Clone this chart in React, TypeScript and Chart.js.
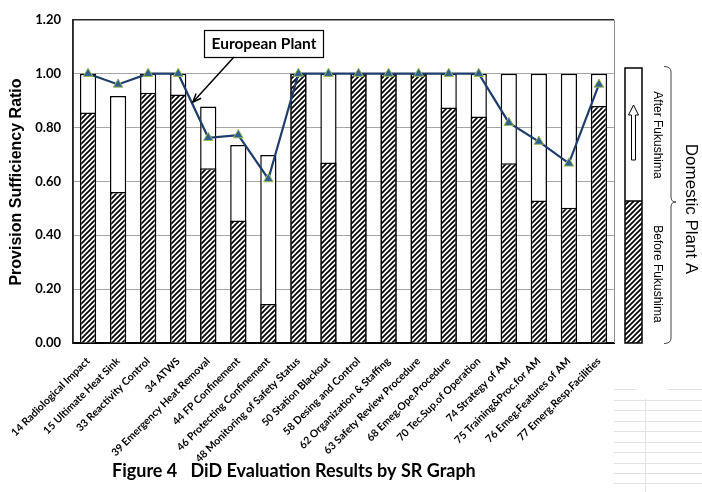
import React, { useEffect, useRef } from "react";
import { Chart, registerables } from "chart.js";

Chart.register(...registerables);

const categories = [
  "14 Radiological Impact",
  "15 Ultimate Heat Sink",
  "33 Reactivity Control",
  "34 ATWS",
  "39 Emergency Heat Removal",
  "44 FP Confinement",
  "46 Protecting Confinement",
  "48 Monitoring of Safety Status",
  "50 Station Blackout",
  "58 Desing and Control",
  "62 Organization & Staffing",
  "63 Safety Review Procedure",
  "68 Emeg.Ope.Procedure",
  "70 Tec.Sup.of Operation",
  "74 Strategy of AM",
  "75 Training&Proc.for AM",
  "76 Emeg.Features of AM",
  "77 Emerg.Resp.Facilities",
];

const beforeFukushima = [0.856, 0.561, 0.929, 0.923, 0.649, 0.455, 0.145, 1.0, 0.67, 1.0, 1.0, 1.0, 0.874, 0.841, 0.667, 0.529, 0.502, 0.88];
const afterFukushima = [1.0, 0.917, 1.0, 1.0, 0.878, 0.735, 0.698, 1.0, 1.0, 1.0, 1.0, 1.0, 1.0, 1.0, 1.0, 1.0, 1.0, 1.0];
const europeanPlant = [1.0, 0.96, 1.0, 1.0, 0.762, 0.772, 0.609, 1.0, 1.0, 1.0, 1.0, 1.0, 1.0, 1.0, 0.818, 0.748, 0.667, 0.96];

const yTicks = [0, 0.2, 0.4, 0.6, 0.8, 1.0, 1.2];

const CAL = "Lato, 'Open Sans', sans-serif";
const ARI = "'Liberation Sans', Arial, sans-serif";

function makeHatch(): CanvasPattern | string {
  const s = 5;
  const c = document.createElement("canvas");
  c.width = s;
  c.height = s;
  const g = c.getContext("2d");
  if (!g) return "#000";
  g.fillStyle = "#fff";
  g.fillRect(0, 0, s, s);
  g.strokeStyle = "#000";
  g.lineWidth = 1.7;
  g.beginPath();
  g.moveTo(0, s);
  g.lineTo(s, 0);
  g.moveTo(-1, 1);
  g.lineTo(1, -1);
  g.moveTo(s - 1, s + 1);
  g.lineTo(s + 1, s - 1);
  g.stroke();
  const p = g.createPattern(c, "repeat");
  return p || "#000";
}

export default function App() {
  const ref = useRef<HTMLCanvasElement | null>(null);

  useEffect(() => {
    const canvas = ref.current;
    if (!canvas) return;
    const hatch = makeHatch();

    const decor = {
      id: "decor",
      beforeDraw(chart: any) {
        const ctx = chart.ctx;
        ctx.save();
        ctx.fillStyle = "#fff";
        ctx.fillRect(0, 0, chart.width, chart.height);
        // faint spreadsheet cells bottom-right
        ctx.strokeStyle = "#e3e3e3";
        ctx.lineWidth = 1;
        ctx.beginPath();
        ctx.moveTo(614, 389.5);
        ctx.lineTo(636, 389.5);
        ctx.moveTo(668, 389.5);
        ctx.lineTo(702, 389.5);
        const rows = [400, 410, 421, 431, 442, 452, 463, 473, 483];
        rows.forEach((y) => {
          ctx.moveTo(614, y + 0.5);
          ctx.lineTo(702, y + 0.5);
        });
        ctx.moveTo(645.5, 399);
        ctx.lineTo(645.5, 492);
        ctx.stroke();
        ctx.restore();
      },
      afterDraw(chart: any) {
        const ctx = chart.ctx;
        const a = chart.chartArea;
        ctx.save();
        // plot border: top & left dark, right gray
        ctx.lineWidth = 1.5;
        ctx.strokeStyle = "#262626";
        ctx.beginPath();
        ctx.moveTo(a.left, a.bottom);
        ctx.lineTo(a.left, a.top);
        ctx.lineTo(a.right, a.top);
        ctx.stroke();
        ctx.lineWidth = 1;
        ctx.strokeStyle = "#8c8c8c";
        ctx.beginPath();
        ctx.moveTo(a.right + 0.5, a.top);
        ctx.lineTo(a.right + 0.5, a.bottom);
        ctx.stroke();

        // y title
        ctx.save();
        ctx.translate(17, 182);
        ctx.rotate(-Math.PI / 2);
        ctx.fillStyle = "#000";
        ctx.font = "bold 16px " + ARI;
        ctx.textAlign = "center";
        ctx.textBaseline = "middle";
        ctx.fillText("Provision Sufficiency Ratio", 0, 0);
        ctx.restore();

        // European Plant callout
        ctx.fillStyle = "#fff";
        ctx.fillRect(204, 30, 119, 27);
        ctx.strokeStyle = "#000";
        ctx.lineWidth = 1.2;
        ctx.strokeRect(204.5, 30.5, 119, 27);
        ctx.fillStyle = "#000";
        ctx.font = "bold 15.5px " + CAL;
        ctx.textAlign = "center";
        ctx.textBaseline = "middle";
        ctx.fillText("European Plant", 264, 44);
        // arrow
        const x1 = 234, y1 = 57, x2 = 193, y2 = 102;
        ctx.lineWidth = 1.5;
        ctx.beginPath();
        ctx.moveTo(x1, y1);
        ctx.lineTo(x2, y2);
        ctx.stroke();
        const ang = Math.atan2(y2 - y1, x2 - x1);
        ctx.beginPath();
        ctx.moveTo(x2 - 9 * Math.cos(ang - 0.4), y2 - 9 * Math.sin(ang - 0.4));
        ctx.lineTo(x2, y2);
        ctx.lineTo(x2 - 9 * Math.cos(ang + 0.4), y2 - 9 * Math.sin(ang + 0.4));
        ctx.stroke();

        // legend box on the right
        const lx = 625, lw = 17, ltop = 68, lmid = 201, lbot = a.bottom;
        ctx.fillStyle = "#fff";
        ctx.fillRect(lx, ltop, lw, lmid - ltop);
        ctx.fillStyle = hatch as any;
        ctx.fillRect(lx, lmid, lw, lbot - lmid);
        ctx.strokeStyle = "#000";
        ctx.lineWidth = 1.5;
        ctx.strokeRect(lx, ltop, lw, lbot - ltop);
        ctx.beginPath();
        ctx.moveTo(lx, lmid);
        ctx.lineTo(lx + lw, lmid);
        ctx.stroke();
        // hollow up arrow
        ctx.lineWidth = 1;
        ctx.beginPath();
        ctx.moveTo(631.5, 160);
        ctx.lineTo(631.5, 115);
        ctx.lineTo(628.5, 115);
        ctx.lineTo(633.5, 105);
        ctx.lineTo(638.5, 115);
        ctx.lineTo(635.5, 115);
        ctx.lineTo(635.5, 160);
        ctx.closePath();
        ctx.stroke();

        // bracket
        ctx.strokeStyle = "#444";
        ctx.lineWidth = 1;
        ctx.beginPath();
        ctx.moveTo(664, 66.5);
        ctx.quadraticCurveTo(671, 66.5, 671, 72);
        ctx.lineTo(671, 197);
        ctx.quadraticCurveTo(671, 202, 676, 202);
        ctx.quadraticCurveTo(671, 202, 671, 207);
        ctx.lineTo(671, 338);
        ctx.quadraticCurveTo(671, 343.5, 664, 343.5);
        ctx.stroke();

        // rotated legend texts
        const vtext = (t: string, x: number, y: number, font: string) => {
          ctx.save();
          ctx.translate(x, y);
          ctx.rotate(Math.PI / 2);
          ctx.fillStyle = "#000";
          ctx.font = font;
          ctx.textAlign = "center";
          ctx.textBaseline = "middle";
          ctx.fillText(t, 0, 0);
          ctx.restore();
        };
        vtext("After Fukushima", 657, 135, "12px " + ARI);
        vtext("Before Fukushima", 657, 274, "12px " + ARI);
        vtext("Domestic Plant A", 691, 209, "17px " + ARI);

        // caption
        ctx.fillStyle = "#000";
        ctx.font = "bold 18px " + CAL;
        ctx.textAlign = "left";
        ctx.textBaseline = "middle";
        ctx.fillText("Figure 4   DiD Evaluation Results by SR Graph", 112, 471);
        ctx.restore();
      },
    };

    const chart = new Chart(canvas, {
      data: {
        labels: categories,
        datasets: [
          {
            type: "line",
            label: "European Plant",
            data: europeanPlant,
            order: 0,
            borderColor: "#1f3d6b",
            borderWidth: 2.2,
            tension: 0,
            pointStyle: "triangle",
            pointRadius: 5.5,
            pointBackgroundColor: "#2f5f8f",
            pointBorderColor: "#9bbb59",
            pointBorderWidth: 1,
          } as any,
          {
            type: "bar",
            label: "Before Fukushima",
            data: beforeFukushima,
            order: 1,
            grouped: false,
            backgroundColor: hatch as any,
            borderColor: "#000",
            borderWidth: 1.5,
            borderSkipped: "start",
            barPercentage: 0.54,
            categoryPercentage: 1,
          } as any,
          {
            type: "bar",
            label: "After Fukushima",
            data: afterFukushima,
            order: 2,
            grouped: false,
            backgroundColor: "#fff",
            borderColor: "#000",
            borderWidth: 1.5,
            borderSkipped: "start",
            barPercentage: 0.54,
            categoryPercentage: 1,
          } as any,
        ],
      },
      options: {
        responsive: false,
        animation: false,
        layout: { padding: { left: 0, top: 16, right: 88, bottom: 0 } },
        plugins: { legend: { display: false }, tooltip: { enabled: false } },
        scales: {
          x: {
            type: "category",
            grid: { display: false },
            border: { display: true, color: "#000", width: 2 },
            ticks: {
              autoSkip: false,
              maxRotation: 45,
              minRotation: 45,
              padding: 4,
              color: "#000",
              font: { family: CAL, weight: "bold", size: 10.5 },
            },
            afterFit: (s: any) => {
              s.height = 149;
            },
          },
          y: {
            min: 0,
            max: 1.2,
            afterBuildTicks: (s: any) => {
              s.ticks = yTicks.map((v) => ({ value: v }));
            },
            grid: { color: "#a6a6a6", lineWidth: 1, drawTicks: false },
            border: { display: true, color: "#262626", width: 1.5 },
            ticks: {
              padding: 12,
              color: "#000",
              font: { family: CAL, weight: "bold", size: 13 },
              callback: (v: any) => Number(v).toFixed(2),
            },
            afterFit: (s: any) => {
              s.width = 73;
            },
          },
        },
      } as any,
      plugins: [decor],
    });
    return () => chart.destroy();
  }, []);

  return (
    <div style={{ position: "absolute", left: 0, top: 0, width: 702, height: 492, background: "#fff" }}>
      <canvas ref={ref} width={702} height={492} style={{ display: "block", width: 702, height: 492 }} />
    </div>
  );
}
